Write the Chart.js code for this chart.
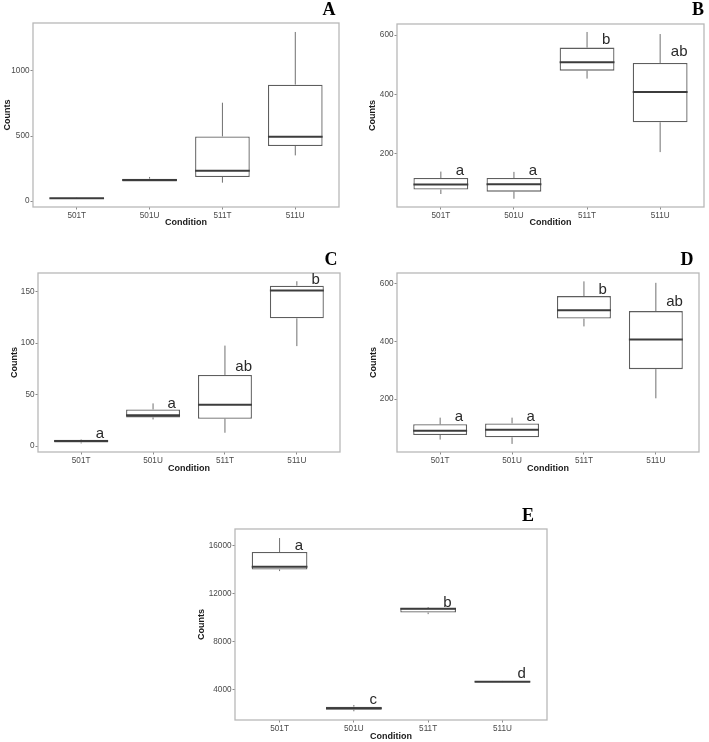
<!DOCTYPE html>
<html>
<head>
<meta charset="utf-8">
<script src="https://cdn.jsdelivr.net/npm/chart.js@4/dist/chart.umd.min.js"></script>
<style>
html,body{margin:0;padding:0;background:#fff;}
body{width:709px;height:742px;position:relative;overflow:hidden;}
canvas{position:absolute;}
</style>
</head>
<body>
<canvas id="cA"></canvas>
<canvas id="cB"></canvas>
<canvas id="cC"></canvas>
<canvas id="cD"></canvas>
<canvas id="cE"></canvas>
<script>
// ---------- DATA ----------
const categories = ['501T', '501U', '511T', '511U'];

// Panel A
const aMin = [18, 150, 141, 351];
const aQ1  = [20, 150, 185, 423];
const aMed = [22, 162, 233, 495];
const aQ3  = [24, 172, 497, 895];
const aMax = [26, 185, 756, 1300];
const aLetters = ['', '', '', ''];
const aLetterY = [0, 0, 0, 0];
const aTicks = [0, 500, 1000];

// Panel B
const bMin = [62, 46, 453, 204];
const bQ1  = [77, 70, 480, 305];
const bMed = [94, 95, 508, 408];
const bQ3  = [116, 116, 558, 506];
const bMax = [138, 137, 611, 604];
const bLetters = ['a', 'a', 'b', 'ab'];
const bLetterY = [140, 140, 584, 543];
const bTicks = [200, 400, 600];

// Panel C
const cMin = [2.5, 25.8, 12.9, 97];
const cQ1  = [3.5, 27.8, 26.5, 124];
const cMed = [5, 30, 40, 151];
const cQ3  = [6, 35.5, 69, 155.7];
const cMax = [6.5, 41.4, 97.5, 160];
const cLetters = ['a', 'a', 'ab', 'b'];
const cLetterY = [11.6, 41, 76.5, 161];
const cTicks = [0, 50, 100, 150];

// Panel D
const dMin = [60, 45, 452, 203];
const dQ1  = [76, 68, 479, 304];
const dMed = [91, 94, 508, 407];
const dQ3  = [113, 116, 557, 505];
const dMax = [136, 136, 608, 603];
const dLetters = ['a', 'a', 'b', 'ab'];
const dLetterY = [140, 140, 579, 537];
const dTicks = [200, 400, 600];

// Panel E
const eMin = [13890, 2225, 10308, 4640];
const eQ1  = [14028, 2360, 10442, 4650];
const eMed = [14250, 2480, 10750, 4692];
const eQ3  = [15475, 2610, 10808, 4740];
const eMax = [16640, 2750, 10890, 4750];
const eLetters = ['a', 'c', 'b', 'd'];
const eLetterY = [16000, 3167, 11275, 5308];
const eTicks = [4000, 8000, 12000, 16000];

// ---------- STYLE / LAYOUT ----------
const HALF = 0.375;          // half box width in category units (ggplot width 0.75)
const TICK_FONT = {family: 'Liberation Sans, Arial, sans-serif', size: 8.2};
const TITLE_FONT = {family: 'Liberation Sans, Arial, sans-serif', size: 9, weight: 'bold'};

const panels = [
  {id:'cA', tag:'A', min:aMin,q1:aQ1,med:aMed,q3:aQ3,max:aMax,letters:aLetters,letterY:aLetterY,ticks:aTicks,
   yMin:-46, yMax:1369, canvas:[0,0,372,232], plot:[33,23,339,207], countsX:8, condY:223, tagPos:[329,10]},
  {id:'cB', tag:'B', min:bMin,q1:bQ1,med:bMed,q3:bQ3,max:bMax,letters:bLetters,letterY:bLetterY,ticks:bTicks,
   yMin:18, yMax:638, canvas:[360,0,709,232], plot:[397,24,704,207], countsX:373, condY:222.5, tagPos:[698,10]},
  {id:'cC', tag:'C', min:cMin,q1:cQ1,med:cMed,q3:cQ3,max:cMax,letters:cLetters,letterY:cLetterY,ticks:cTicks,
   yMin:-5.8, yMax:168, canvas:[0,240,372,480], plot:[38,273,340,452], countsX:15, condY:468.5, tagPos:[331,260]},
  {id:'cD', tag:'D', min:dMin,q1:dQ1,med:dMed,q3:dQ3,max:dMax,letters:dLetters,letterY:dLetterY,ticks:dTicks,
   yMin:17, yMax:637, canvas:[360,240,709,480], plot:[397,273,699,452], countsX:374, condY:468.3, tagPos:[687,260]},
  {id:'cE', tag:'E', min:eMin,q1:eQ1,med:eMed,q3:eQ3,max:eMax,letters:eLetters,letterY:eLetterY,ticks:eTicks,
   yMin:1500, yMax:17392, canvas:[180,490,570,742], plot:[235,529,547,720], countsX:201.7, condY:736.5, tagPos:[528,516]}
];

const framePlugin = {
  id: 'frame',
  beforeDatasetsDraw(chart) {
    const {ctx, chartArea: a} = chart;
    ctx.save();
    ctx.strokeStyle = '#b8b8b8';
    ctx.lineWidth = 1.3;
    ctx.strokeRect(a.left, a.top, a.right - a.left, a.bottom - a.top);
    ctx.restore();
  },
  afterDraw(chart, args, opts) {
    const {ctx, scales: {x, y}} = chart;
    const p = opts.panel;
    ctx.save();
    // significance letters
    ctx.fillStyle = '#2a2a2a';
    ctx.font = '15px "Liberation Sans", Arial, sans-serif';
    ctx.textAlign = 'center';
    ctx.textBaseline = 'middle';
    p.letters.forEach((t, i) => {
      if (!t) return;
      ctx.fillText(t, x.getPixelForValue(i + 1 + 0.26), y.getPixelForValue(p.letterY[i]));
    });
    // panel tag
    ctx.fillStyle = '#000';
    ctx.font = 'bold 18px "Liberation Serif", "Times New Roman", serif';
    ctx.fillText(p.tag, p.tagPos[0] - p.canvas[0], p.tagPos[1] - p.canvas[1]);
    ctx.restore();
  }
};

function build(p) {
  const el = document.getElementById(p.id);
  const [cl, ct, cr, cb] = p.canvas;
  const [pl, pt, pr, pb] = p.plot;
  const W = cr - cl, H = cb - ct;
  el.style.left = cl + 'px';
  el.style.top = ct + 'px';
  el.width = W; el.height = H;
  el.style.width = W + 'px'; el.style.height = H + 'px';

  const xs = categories.map((c, i) => i + 1);
  const boxData = xs.map((v, i) => ({x: v, y: [p.q1[i], p.q3[i]]}));
  const whisk = [];
  xs.forEach((v, i) => {
    whisk.push({x: v, y: p.min[i]}, {x: v, y: p.q1[i]}, {x: v, y: null},
               {x: v, y: p.q3[i]}, {x: v, y: p.max[i]}, {x: v, y: null});
  });
  const medData = [];
  xs.forEach((v, i) => {
    medData.push({x: v - HALF, y: p.med[i]}, {x: v + HALF, y: p.med[i]}, {x: v, y: null});
  });

  const lh = 1.2;
  const titleHalf = TITLE_FONT.size * lh / 2;

  new Chart(el, {
    type: 'bar',
    data: {
      datasets: [
        {type: 'line', data: whisk, borderColor: '#707070', borderWidth: 1, pointRadius: 0,
         spanGaps: false, order: 3, fill: false},
        {type: 'bar', data: boxData, backgroundColor: '#ffffff', borderColor: '#5e5e5e', borderWidth: 1.3,
         borderSkipped: false, barPercentage: 0.75, categoryPercentage: 1, order: 2},
        {type: 'line', data: medData, borderColor: '#3c3c3c', borderWidth: 2, pointRadius: 0,
         spanGaps: false, order: 1, fill: false}
      ]
    },
    options: {
      responsive: false,
      animation: false,
      events: [],
      layout: {padding: {left: 0, top: pt - ct, right: cr - pr, bottom: 0}},
      plugins: {legend: {display: false}, tooltip: {enabled: false}, title: {display: false},
                frame: {panel: p}},
      scales: {
        x: {
          type: 'linear', min: 0.4, max: 4.6, offset: false,
          afterBuildTicks: s => { s.ticks = xs.map(v => ({value: v})); },
          afterFit: s => { s.height = cb - pb; },
          grid: {display: true, drawOnChartArea: false, drawTicks: true, tickLength: 2.5, color: '#8a8a8a', offset: false},
          border: {display: false},
          ticks: {color: '#4a4a4a', font: TICK_FONT, padding: 1.5, maxRotation: 0, autoSkip: false,
                  callback: v => categories[v - 1]},
          title: {display: true, text: 'Condition', color: '#1a1a1a', font: TITLE_FONT,
                  padding: {top: 0, bottom: Math.max(0, cb - p.condY - titleHalf)}}
        },
        y: {
          type: 'linear', min: p.yMin, max: p.yMax, beginAtZero: false,
          afterBuildTicks: s => { s.ticks = p.ticks.map(v => ({value: v})); },
          afterFit: s => { s.width = pl - cl; },
          grid: {display: true, drawOnChartArea: false, drawTicks: true, tickLength: 2.5, color: '#8a8a8a'},
          border: {display: false},
          ticks: {color: '#4a4a4a', font: TICK_FONT, padding: 1, autoSkip: false, callback: v => String(v)},
          title: {display: true, text: 'Counts', color: '#1a1a1a', font: TITLE_FONT,
                  padding: {top: Math.max(0, p.countsX - cl - titleHalf), bottom: 0}}
        }
      }
    },
    plugins: [framePlugin]
  });
}
panels.forEach(build);
</script>
</body>
</html>
